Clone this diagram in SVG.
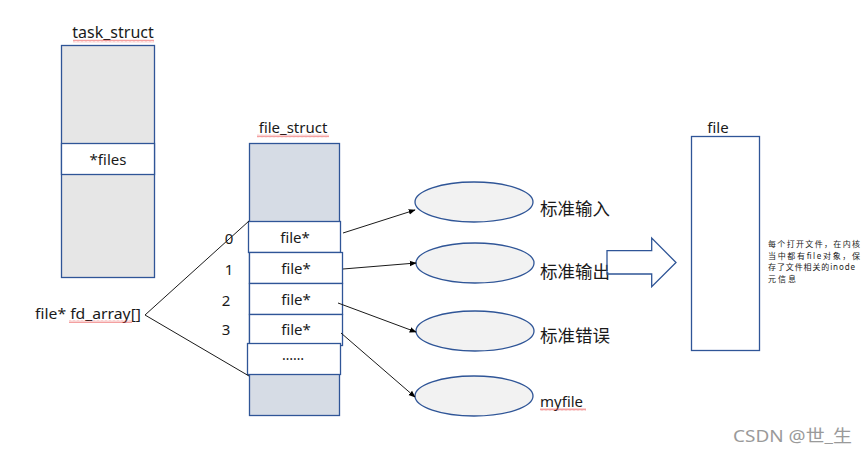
<svg xmlns="http://www.w3.org/2000/svg" width="868" height="455" viewBox="0 0 868 455">
<defs>
<marker id="ah" viewBox="0 0 10 10" refX="9" refY="5" markerWidth="7" markerHeight="7" orient="auto" markerUnits="userSpaceOnUse">
<path d="M0,1 L10,5 L0,9 z" fill="#000"/>
</marker>
<pattern id="sq" width="4" height="3" patternUnits="userSpaceOnUse">
<path d="M0,2.5 L1,0.5 L2,2.5 L3,0.5 L4,2.5" fill="none" stroke="#e84040" stroke-width="0.5"/>
</pattern>
<style>
.box{stroke:#2F5597;stroke-width:1.3}
.t{font-family:"Noto Sans","Noto Sans CJK SC",sans-serif;fill:#1a1a1a}
.lbl{font-size:15px}
.cjk{font-size:17.5px}
.note{font-size:8px}
.cell{fill:#fff;stroke:#2F5597;stroke-width:1.3}
.ell{fill:#F2F2F2;stroke:#2F5597;stroke-width:1.3}
.conn{stroke:#1a1a1a;stroke-width:1;fill:none}
</style>
</defs>
<rect width="868" height="455" fill="#fff"/>

<g id="task_struct">
<rect class="box" x="61.5" y="45.5" width="93" height="232" fill="#E6E6E6"/>
<rect class="cell" x="61.5" y="143.5" width="93" height="31"/>
<text class="t lbl" x="108" y="165" text-anchor="middle">*files</text>
<text class="t" x="113" y="38" font-size="16" text-anchor="middle">task_struct</text>
<rect x="73" y="39.5" width="81" height="3" fill="url(#sq)"/>
</g>

<g id="file_struct">
<rect class="box" x="249.5" y="143.5" width="90" height="272" fill="#D6DCE5"/>
<text class="t" x="293" y="133" font-size="15" text-anchor="middle">file_struct</text>
<rect x="257" y="134.5" width="72" height="3" fill="url(#sq)"/>
<g id="fd0"><rect class="cell" x="248.5" y="221.5" width="92" height="31"/><text class="t lbl" x="295" y="243" text-anchor="middle">file*</text><text class="t lbl" x="229" y="244" text-anchor="middle">0</text></g>
<g id="fd1"><rect class="cell" x="249.5" y="252.5" width="93" height="31"/><text class="t lbl" x="296" y="274" text-anchor="middle">file*</text><text class="t lbl" x="229" y="275" text-anchor="middle">1</text></g>
<g id="fd2"><rect class="cell" x="249.5" y="283.5" width="93" height="31"/><text class="t lbl" x="296" y="305" text-anchor="middle">file*</text><text class="t lbl" x="226" y="306" text-anchor="middle">2</text></g>
<g id="fd3"><rect class="cell" x="249.5" y="314.5" width="93" height="31"/><text class="t lbl" x="296" y="335" text-anchor="middle">file*</text><text class="t lbl" x="226" y="335" text-anchor="middle">3</text></g>
<g id="fdmore"><rect class="cell" x="247.5" y="343.5" width="93" height="31"/><text class="t" x="293" y="360" font-size="14" text-anchor="middle">……</text></g>
</g>

<g id="fd_array">
<text class="t lbl" x="35" y="319" textLength="106" lengthAdjust="spacingAndGlyphs">file* fd_array[]</text>
<rect x="69" y="320" width="63" height="3" fill="url(#sq)"/>
</g>

<g id="stdin"><ellipse class="ell" cx="474" cy="202" rx="59" ry="20"/><text class="t cjk" x="540" y="215">标准输入</text></g>
<g id="stdout"><ellipse class="ell" cx="475" cy="263" rx="59" ry="20"/><text class="t cjk" x="540" y="278">标准输出</text></g>
<g id="stderr"><ellipse class="ell" cx="475" cy="331" rx="59" ry="20"/><text class="t cjk" x="540" y="342">标准错误</text></g>
<g id="myfile"><ellipse class="ell" cx="474" cy="396" rx="59" ry="20"/><text class="t lbl" x="540" y="407">myfile</text><rect x="540" y="408" width="46" height="3" fill="url(#sq)"/></g>

<g id="bigarrow">
<path d="M607,250.7 L651.7,250.7 L651.7,238 L676,262.5 L651.7,286.7 L651.7,274 L607,274 Z" fill="none" stroke="#2F5597" stroke-width="1.3"/>
</g>

<g id="file">
<rect class="box" x="691.5" y="136.5" width="68" height="214" fill="#fff"/>
<text class="t" x="718" y="133" font-size="15" text-anchor="middle">file</text>
<text class="t note" x="768" y="247" textLength="92" lengthAdjust="spacing">每个打开文件，在内核</text>
<text class="t note" x="768" y="258.5" textLength="92" lengthAdjust="spacing">当中都有file对象，保</text>
<text class="t note" x="768" y="270" textLength="87" lengthAdjust="spacing">存了文件相关的inode</text>
<text class="t note" x="768" y="281.5" textLength="28" lengthAdjust="spacing">元信息</text>
</g>

<g id="connectors">
<path class="conn" d="M249,221 L145,315 L249,376"/>
<line class="conn" x1="343" y1="233" x2="415" y2="210" marker-end="url(#ah)"/>
<line class="conn" x1="343" y1="269" x2="416" y2="263" marker-end="url(#ah)"/>
<line class="conn" x1="338" y1="303" x2="416" y2="332" marker-end="url(#ah)"/>
<line class="conn" x1="341" y1="333" x2="415" y2="397" marker-end="url(#ah)"/>
</g>

<text x="733" y="442" font-family="Noto Sans, Noto Sans CJK SC, sans-serif" font-size="17" fill="#9a9a9a" textLength="119" lengthAdjust="spacingAndGlyphs">CSDN @世_生</text>
</svg>
